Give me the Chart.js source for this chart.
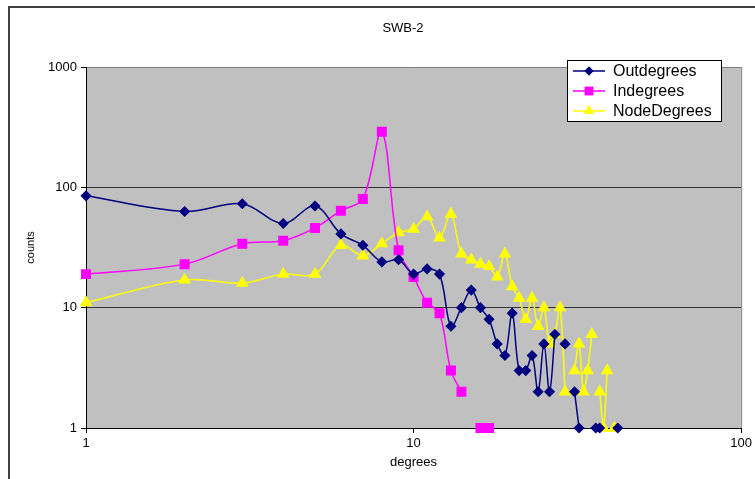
<!DOCTYPE html>
<html lang="en">
    <head>
        <meta charset="utf-8">
        <title>SWB-2</title>
        <script src="https://cdn.jsdelivr.net/npm/chart.js"></script>
        <style>
            html, body { margin: 0; padding: 0; background: #fff; overflow: hidden; }
            canvas { display: block; }
        </style>
    </head>
    <body>
        <canvas id="myChart" width="755" height="479"></canvas>

        <script>
        // data (null = no point, line breaks there)
        const degrees = [1, 2, 3, 4, 5, 6, 7, 8, 9, 10, 11, 12, 13, 14, 15, 16, 17, 18, 19, 20,
                         21, 22, 23, 24, 25, 26, 27, 28, 29, 30, 31, 32, 33, 34, 35, 36, 37, 38, 39, 40, 41, 42];
        const outdegrees = [85, 63, 73, 50, 70, 41, 33, 24, 25, 19, 21, 19, 7, 10, 14, 10, 8, 5, 4, 9,
                            3, 3, 4, 2, 5, 2, 6, null, 5, null, 2, 1, null, null, null, 1, 1, null, null, null, null, 1];
        const indegrees = [19, 23, 34, 36, 46, 64, 80, 290, 30, 18, 11, 9, 3, 2, null, 1, 1];
        const nodeDegrees = [11, 17, 16, 19, 19, 33, 27, 34, 42, 45, 57, 38, 60, 28, 25, 23, 22, 18, 28, 15,
                             12, 8, 12, 7, 10, 5, 6, 10, 2, null, 3, 5, 2, 3, 6, null, 2, 1, 3, null, 1];
        const xTicks = [1, 10, 100];
        const yTicks = [1, 10, 100, 1000];

        const FONT = "'Liberation Sans', Arial, sans-serif";

        function toPoints(values) {
          return values.map((v, i) => ({ x: degrees[i], y: v }));
        }

        // background, outer frame, plot area
        const framePlugin = {
          id: 'frame',
          beforeDraw(chart) {
            const ctx = chart.ctx;
            const a = chart.chartArea;
            ctx.save();
            ctx.fillStyle = '#fff';
            ctx.fillRect(0, 0, chart.width, chart.height);
            ctx.strokeStyle = '#404040';
            ctx.lineWidth = 2;
            ctx.strokeRect(9, 7, chart.width + 20, chart.height + 20);
            ctx.fillStyle = '#c0c0c0';
            ctx.fillRect(a.left, a.top, a.right - a.left, a.bottom - a.top);
            ctx.restore();
          },
          beforeDatasetsDraw(chart) {
            const ctx = chart.ctx;
            const a = chart.chartArea;
            ctx.save();
            ctx.strokeStyle = '#808080';
            ctx.lineWidth = 1;
            ctx.beginPath();
            ctx.moveTo(a.right + 0.5, a.top);
            ctx.lineTo(a.right + 0.5, a.bottom);
            ctx.stroke();
            ctx.restore();
          },
          afterDraw(chart) {
            const ctx = chart.ctx;
            ctx.save();
            // title
            ctx.fillStyle = '#000';
            ctx.font = '13px ' + FONT;
            ctx.textAlign = 'center';
            ctx.textBaseline = 'middle';
            ctx.fillText('SWB-2', 403, 28);

            // legend box
            const bx = 567, by = 60, bw = 154, bh = 61;
            ctx.fillStyle = '#fff';
            ctx.fillRect(bx, by, bw, bh);
            ctx.strokeStyle = '#000';
            ctx.lineWidth = 1;
            ctx.strokeRect(bx + 0.5, by + 0.5, bw, bh);

            const rows = [71, 91, 111];
            chart.data.datasets.forEach((ds, i) => {
              const y = rows[i];
              ctx.strokeStyle = ds.borderColor;
              ctx.lineWidth = ds.borderWidth;
              ctx.beginPath();
              ctx.moveTo(573, y);
              ctx.lineTo(605, y);
              ctx.stroke();
              ctx.fillStyle = ds.backgroundColor;
              Chart.helpers.drawPoint(ctx, {
                pointStyle: ds.pointStyle,
                radius: ds.pointRadius,
                borderWidth: 0,
                rotation: 0
              }, 589, y);
              ctx.fill();
              ctx.fillStyle = '#000';
              ctx.font = '16px ' + FONT;
              ctx.textAlign = 'left';
              ctx.textBaseline = 'middle';
              ctx.fillText(ds.label, 613, y + 1);
            });
            ctx.restore();
          }
        };

        const ctx = document.getElementById('myChart').getContext('2d');
        const myChart = new Chart(ctx, {
          type: 'line',
          data: {
            datasets: [{
              label: 'Outdegrees',
              data: toPoints(outdegrees),
              borderColor: '#000080',
              backgroundColor: '#000080',
              pointStyle: 'rectRot',
              pointRadius: 4.5,
              borderWidth: 1.5
            }, {
              label: 'Indegrees',
              data: toPoints(indegrees),
              borderColor: '#ff00ff',
              backgroundColor: '#ff00ff',
              pointStyle: 'rect',
              pointRadius: 6,
              borderWidth: 1.5
            }, {
              label: 'NodeDegrees',
              data: toPoints(nodeDegrees),
              borderColor: '#ffff00',
              backgroundColor: '#ffff00',
              pointStyle: 'triangle',
              pointRadius: 5.8,
              borderWidth: 1.5
            }]
          },
          options: {
            responsive: false,
            animation: false,
            spanGaps: false,
            layout: { padding: { left: 0, top: 67, right: 13, bottom: 0 } },
            elements: {
              line: { tension: 0.35, fill: false },
              point: { borderWidth: 0, hoverRadius: 5 }
            },
            datasets: { line: { clip: false } },
            plugins: {
              legend: { display: false },
              title: { display: false },
              tooltip: { enabled: false }
            },
            scales: {
              x: {
                type: 'logarithmic',
                min: 1,
                max: 100,
                afterBuildTicks: (s) => { s.ticks = xTicks.map(v => ({ value: v })); },
                afterFit: (s) => { s.height = 51; },
                ticks: {
                  callback: (v) => String(v),
                  color: '#000',
                  font: { family: FONT, size: 13 },
                  padding: 3,
                  maxRotation: 0,
                  autoSkip: false
                },
                grid: { drawOnChartArea: false, drawTicks: true, tickLength: 5, tickColor: '#000' },
                border: { color: '#000', width: 1 },
                title: {
                  display: true,
                  text: 'degrees',
                  color: '#000',
                  font: { family: FONT, size: 13 },
                  padding: { top: 0, bottom: 9 }
                }
              },
              y: {
                type: 'logarithmic',
                min: 1,
                max: 1000,
                afterBuildTicks: (s) => { s.ticks = yTicks.map(v => ({ value: v })); },
                afterFit: (s) => { s.width = 86; },
                ticks: {
                  callback: (v) => String(v),
                  color: '#000',
                  font: { family: FONT, size: 13 },
                  padding: 4,
                  autoSkip: false
                },
                grid: {
                  color: (c) => (c.tick && c.tick.value === 1000 ? '#808080' : '#333'),
                  drawTicks: true,
                  tickLength: 5,
                  tickColor: '#000'
                },
                border: { color: '#000', width: 1 },
                title: {
                  display: true,
                  text: 'counts',
                  color: '#000',
                  font: { family: FONT, size: 11 },
                  padding: { top: 24, bottom: 0 }
                }
              }
            }
          },
          plugins: [framePlugin]
        });
        </script>
    </body>
</html>
